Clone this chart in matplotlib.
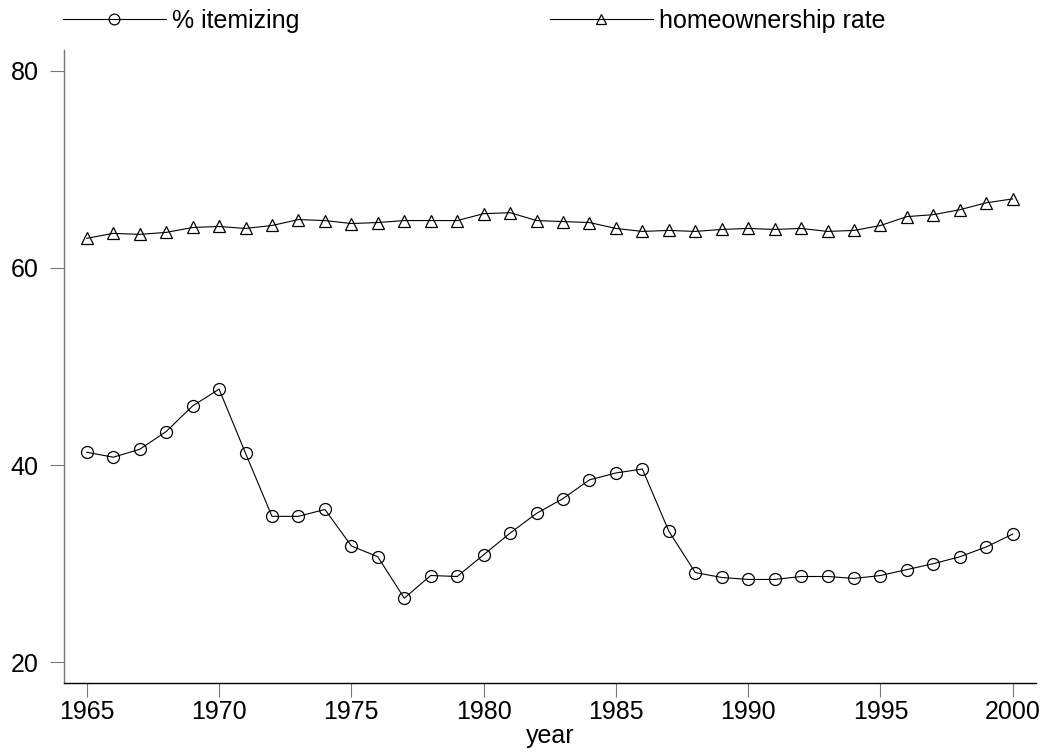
import matplotlib
matplotlib.use("Agg")
import matplotlib.pyplot as plt

plt.rcParams['font.family'] = ['Liberation Sans', 'DejaVu Sans']

years = list(range(1965, 2001))
# percent of returns itemizing deductions
itemizing = [41.3, 40.8, 41.6, 43.4, 46.0, 47.7, 41.2, 34.8, 34.8, 35.5,
             31.8, 30.7, 26.5, 28.8, 28.7, 30.9, 33.1, 35.1, 36.6, 38.5,
             39.2, 39.6, 33.3, 29.1, 28.6, 28.4, 28.4, 28.7, 28.7, 28.5,
             28.8, 29.4, 30.0, 30.7, 31.7, 33.0]
# homeownership rate
homeown = [63.0, 63.5, 63.4, 63.6, 64.1, 64.2, 64.0, 64.3, 64.9, 64.8,
           64.5, 64.6, 64.8, 64.8, 64.8, 65.5, 65.6, 64.8, 64.7, 64.6,
           64.0, 63.7, 63.8, 63.7, 63.9, 64.0, 63.9, 64.0, 63.7, 63.8,
           64.3, 65.2, 65.4, 65.9, 66.6, 67.0]

fig = plt.figure(figsize=(10.43, 7.53), dpi=100)
ax = fig.add_axes([0.0609, 0.093, 0.9324, 0.8406])

l1, = ax.plot(years, itemizing, color='black', lw=0.8, marker='o', ms=8.6,
              mfc='none', mec='black', mew=0.9, label='% itemizing')
l2, = ax.plot(years, homeown, color='black', lw=0.8, marker='^', ms=8.6,
              mfc='none', mec='black', mew=0.9, label='homeownership rate')

ax.set_xlim(1964.12, 2000.88)
ax.set_ylim(17.9, 82.1)
ax.set_xticks(range(1965, 2001, 5))
ax.set_yticks([20, 40, 60, 80])
ax.tick_params(axis='both', labelsize=18, length=10, width=0.8, color='#777777')
ax.tick_params(axis='x', pad=2)
ax.tick_params(axis='y', pad=8)
ax.spines['top'].set_visible(False)
ax.spines['right'].set_visible(False)
ax.spines['left'].set_color('#777777')
ax.spines['left'].set_linewidth(1.0)
ax.spines['bottom'].set_linewidth(1.0)
ax.set_xlabel('year', fontsize=18, labelpad=0)

# two legend entries set apart as in the original
for h, x in [(l1, 63 / 1043), (l2, 550 / 1043)]:
    fig.legend(handles=[h], loc='center left', bbox_to_anchor=(x, 1 - 21 / 753),
               frameon=False, fontsize=18, borderpad=0, borderaxespad=0,
               handlelength=4.1, handletextpad=0.25, markerscale=0.9)

fig.savefig('out.png', dpi=100)
